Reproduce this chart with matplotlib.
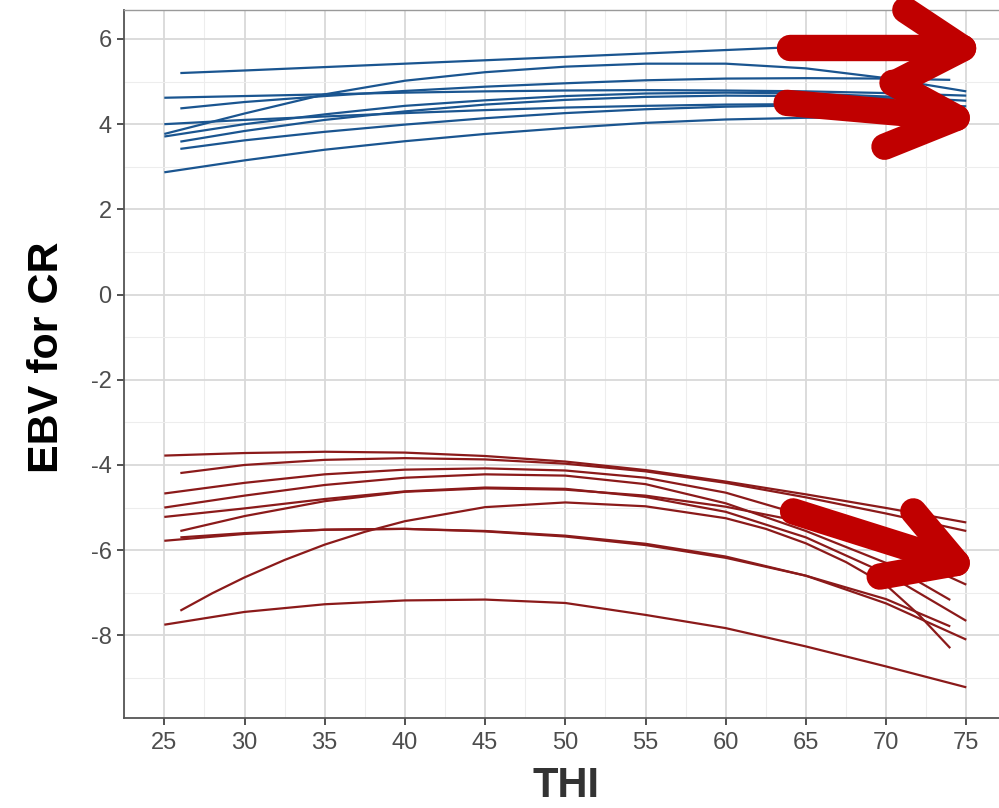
import matplotlib
matplotlib.use("Agg")
import matplotlib.pyplot as plt
from matplotlib import font_manager as fm

plt.rcParams["axes.unicode_minus"] = False

# ---------------- data ----------------
x_full = [25, 30, 35, 40, 45, 50, 55, 60, 65, 70, 75]
x_short = [26, 30, 35, 40, 45, 50, 55, 60, 65, 70, 74]
x_short_b = [26, 30, 35, 40, 45, 50, 55, 60, 65, 70, 75]
x_end74 = [25, 30, 35, 40, 45, 50, 55, 60, 65, 70, 74]
x_fine = [26, 28, 30, 32.5, 35, 37.5, 40, 45, 50, 55, 60, 62.5, 65, 67.5, 70, 72, 74]

blue_a = [5.20, 5.26, 5.34, 5.42, 5.50, 5.58, 5.66, 5.74, 5.82, 5.88, 5.93]
blue_e = [3.77, 4.25, 4.70, 5.02, 5.22, 5.35, 5.42, 5.42, 5.31, 5.08, 4.77]
blue_c = [4.37, 4.52, 4.66, 4.78, 4.88, 4.96, 5.03, 5.07, 5.08, 5.07, 5.04]
blue_b = [4.62, 4.66, 4.70, 4.74, 4.77, 4.79, 4.80, 4.79, 4.77, 4.73, 4.67]
blue_f = [3.71, 4.00, 4.23, 4.43, 4.56, 4.66, 4.72, 4.74, 4.72, 4.65, 4.55]
blue_d = [4.00, 4.10, 4.18, 4.26, 4.33, 4.39, 4.43, 4.46, 4.47, 4.45, 4.42]
blue_g = [3.59, 3.84, 4.10, 4.30, 4.46, 4.57, 4.64, 4.67, 4.66, 4.61, 4.54]
blue_h = [3.42, 3.62, 3.82, 3.99, 4.14, 4.26, 4.35, 4.41, 4.44, 4.44, 4.42]
blue_i = [2.87, 3.15, 3.40, 3.60, 3.77, 3.91, 4.03, 4.11, 4.15, 4.17, 4.16]

red_1 = [-3.78, -3.72, -3.69, -3.71, -3.79, -3.92, -4.12, -4.39, -4.69, -5.01, -5.35]
red_2 = [-4.19, -4.00, -3.88, -3.84, -3.87, -3.97, -4.15, -4.42, -4.76, -5.14, -5.55]
red_3 = [-4.67, -4.42, -4.22, -4.11, -4.08, -4.13, -4.30, -4.65, -5.20, -5.95, -6.81]
red_4 = [-5.00, -4.72, -4.47, -4.30, -4.22, -4.25, -4.45, -4.90, -5.55, -6.30, -7.17]
red_5 = [-5.22, -5.02, -4.80, -4.62, -4.53, -4.56, -4.75, -5.10, -5.70, -6.55, -7.66]
red_6 = [-5.55, -5.20, -4.85, -4.63, -4.55, -4.58, -4.72, -4.98, -5.35, -5.80, -6.30]
red_7 = [-5.78, -5.62, -5.52, -5.50, -5.55, -5.66, -5.85, -6.15, -6.60, -7.25, -8.10]
red_8 = [-5.70, -5.60, -5.52, -5.50, -5.56, -5.68, -5.88, -6.18, -6.60, -7.15, -7.79]
red_9 = [-7.42, -7.01, -6.64, -6.23, -5.87, -5.57, -5.32, -4.99, -4.88, -4.97, -5.25,
         -5.50, -5.84, -6.28, -6.82, -7.50, -8.30]
red_10 = [-7.75, -7.45, -7.27, -7.18, -7.16, -7.24, -7.52, -7.83, -8.26, -8.73, -9.22]

blue_series = [(x_short, blue_a), (x_full, blue_e), (x_short, blue_c), (x_full, blue_b),
               (x_full, blue_f), (x_full, blue_d), (x_short, blue_g), (x_short, blue_h),
               (x_full, blue_i)]
red_series = [(x_full, red_1), (x_short_b, red_2), (x_full, red_3), (x_end74, red_4),
              (x_full, red_5), (x_short, red_6), (x_full, red_7), (x_short, red_8),
              (x_fine, red_9), (x_full, red_10)]

x_ticks = [25, 30, 35, 40, 45, 50, 55, 60, 65, 70, 75]
y_ticks = [-8, -6, -4, -2, 0, 2, 4, 6]

# hand-drawn arrow annotations
arrow_paths = [
    [(64.0, 5.78), (74.8, 5.78)],
    [(71.2, 6.68), (74.8, 5.78), (70.6, 4.97)],
    [(63.8, 4.50), (74.4, 4.15)],
    [(70.4, 4.97), (74.4, 4.15), (69.9, 3.47)],
    [(64.2, -5.09), (74.4, -6.30)],
    [(71.7, -5.09), (74.4, -6.30), (69.6, -6.62)],
]

# ---------------- plotting ----------------
names = {f.name for f in fm.fontManager.ttflist}
base_font = "Liberation Sans" if "Liberation Sans" in names else "DejaVu Sans"

fig = plt.figure(figsize=(9.99, 8.08), dpi=100)
ax = fig.add_axes([124.2 / 999, 1 - 718 / 808, 882.2 / 999, 708 / 808])

blue = "#1a5590"
red = "#8b1a1a"
for xs, ys in blue_series:
    ax.plot(xs, ys, color=blue, lw=1.6, solid_capstyle="butt", solid_joinstyle="round", zorder=3)
for xs, ys in red_series:
    ax.plot(xs, ys, color=red, lw=1.6, solid_capstyle="butt", solid_joinstyle="round", zorder=3)

for path in arrow_paths:
    ax.plot([p[0] for p in path], [p[1] for p in path], color="#c00000", lw=19,
            solid_capstyle="round", solid_joinstyle="round", zorder=5, clip_on=False)

ax.set_xlim(22.5, 77.5)
ax.set_ylim(-9.94, 6.68)
ax.set_xticks(x_ticks)
ax.set_yticks(y_ticks)
ax.set_xticks([22.5 + 5 * i for i in range(11)] + [77.5], minor=True)
ax.set_yticks([-9, -7, -5, -3, -1, 1, 3, 5], minor=True)
ax.grid(True, which="major", color="#d9d9d9", lw=1.3, zorder=0)
ax.grid(True, which="minor", color="#ededed", lw=0.8, zorder=0)
ax.set_axisbelow(True)

for side in ["left", "bottom"]:
    ax.spines[side].set_color("#555555")
    ax.spines[side].set_linewidth(1.3)
ax.spines["top"].set_color("#9a9a9a")
ax.spines["top"].set_linewidth(1.0)
ax.spines["right"].set_visible(False)

ax.tick_params(axis="both", which="major", direction="out", length=5, width=1.2,
               color="#333333", labelcolor="#4d4d4d", labelsize=17)
ax.tick_params(axis="both", which="minor", length=0)
for lab in ax.get_xticklabels() + ax.get_yticklabels():
    lab.set_fontfamily(base_font)
ax.tick_params(axis="x", pad=5)
ax.tick_params(axis="y", pad=4)

fig.text(47 / 999, 1 - 357 / 808, "EBV for CR", rotation=90, ha="center", va="center",
         fontsize=31, fontweight="bold", color="black", family=base_font)
fig.text(566 / 999, 1 - 786 / 808, "THI", ha="center", va="center",
         fontsize=30, fontweight="bold", color="#333333", family=base_font)

fig.savefig("out.png", dpi=100)
